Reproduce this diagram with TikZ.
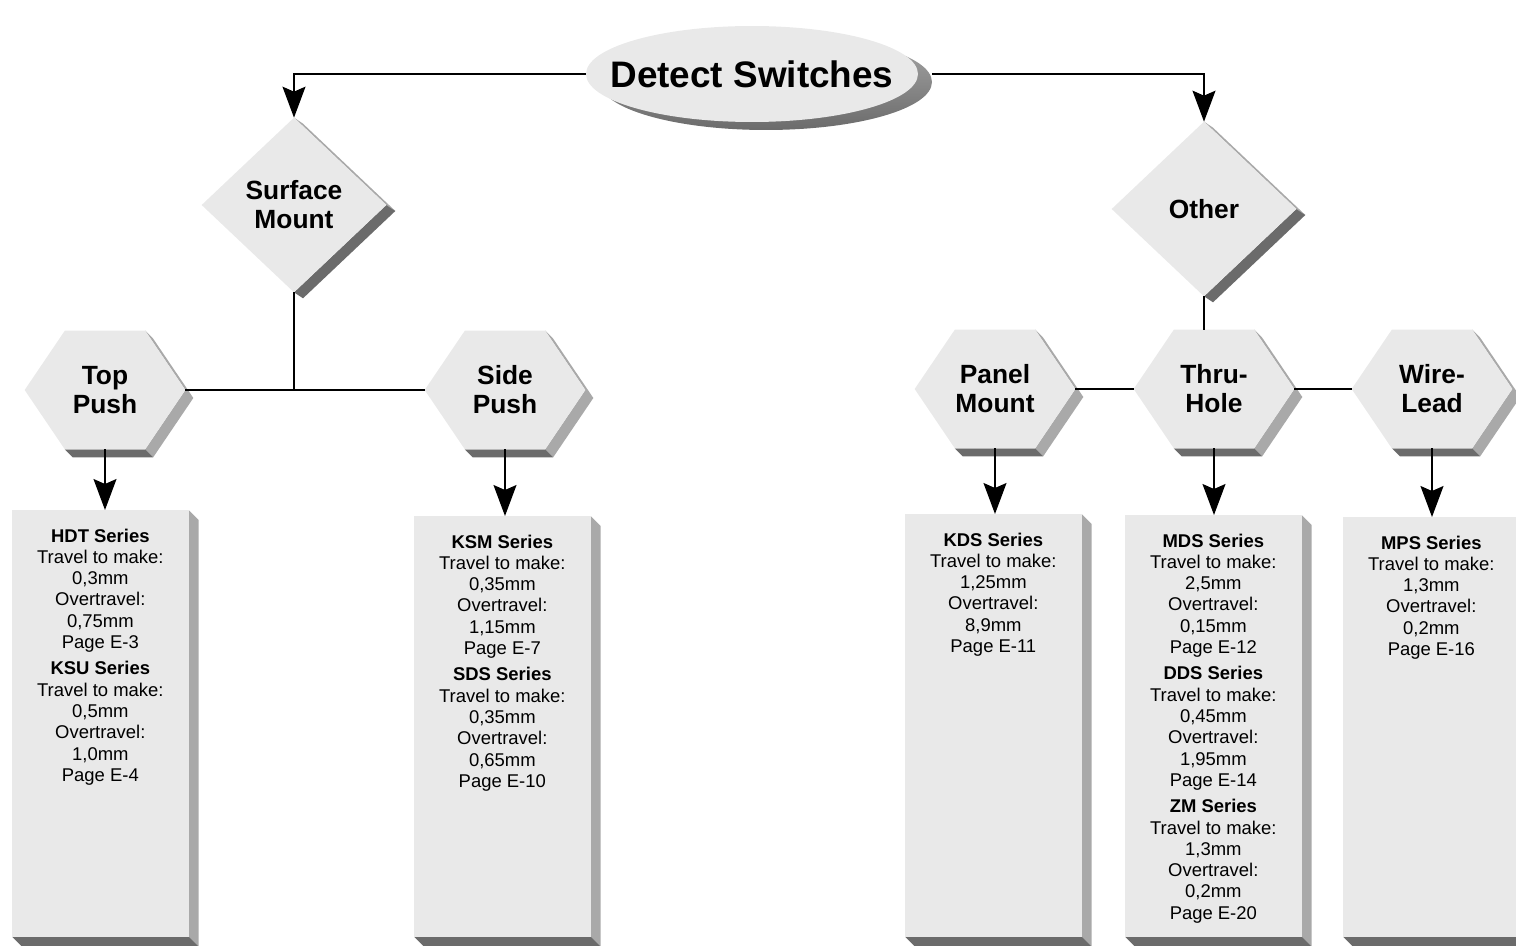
\documentclass[tikz,border=0pt]{standalone}
\usepackage{fontspec}
\setmainfont{Liberation Sans}
\usepackage{tikz}
\usetikzlibrary{arrows.meta}
\usetikzlibrary{backgrounds}
\usetikzlibrary{calc}
\definecolor{facegray}{HTML}{E9E9E9}
\definecolor{sidegray}{HTML}{A9A9A9}
\definecolor{dropgray}{HTML}{6B6B6B}

\begin{document}
\begin{tikzpicture}[x=0.02cm, y=-0.02cm,
title/.style={inner sep=0pt, align=center, minimum width=6.64cm, minimum height=1.92cm,
  font=\fontsize{21}{24}\selectfont\bfseries},
choice/.style={inner sep=0pt, align=center, minimum width=3.68cm, minimum height=3.48cm,
  font=\fontsize{15}{16.5}\selectfont\bfseries},
kind/.style={inner sep=0pt, align=center, minimum width=3.2cm, minimum height=2.36cm,
  font=\fontsize{15}{16.5}\selectfont\bfseries},
series/.style={inner sep=0pt, anchor=north west,
  execute at begin node={\begin{minipage}[t][#1][t]{3.52cm}\centering
    \fontsize{10.5}{12.1}\selectfont\vspace*{10.5pt}},
  execute at end node={\end{minipage}}},
link/.style={line width=0.9pt},
arr/.style={-{Stealth[length=0.62cm, width=0.46cm, inset=0.1cm]}}]
\useasboundingbox (0,0) rectangle (1516,946);

\node[title] (root) at (752,74) {Detect Switches};
\node[choice] (surf) at (294,205) {Surface\\Mount};
\node[choice] (oth) at (1204,209) {Other};
\node[kind] (tp) at (105,390) {Top\\Push};
\node[kind] (sp) at (505,390) {Side\\Push};
\node[kind] (pm) at (995,389) {Panel\\Mount};
\node[kind] (th) at (1214,389) {Thru-\\Hole};
\node[kind] (wl) at (1432,389) {Wire-\\Lead};

\node[series=8.52cm] (hdt) at (12,510) {\textbf{HDT Series}\\Travel to make:\\0,3mm\\Overtravel:\\0,75mm\\Page E-3\\[3pt]
  \textbf{KSU Series}\\Travel to make:\\0,5mm\\Overtravel:\\1,0mm\\Page E-4};
\node[series=8.4cm] (ksm) at (414,516) {\textbf{KSM Series}\\Travel to make:\\0,35mm\\Overtravel:\\1,15mm\\Page E-7\\[3pt]
  \textbf{SDS Series}\\Travel to make:\\0,35mm\\Overtravel:\\0,65mm\\Page E-10};
\node[series=8.44cm] (kds) at (905,514) {\textbf{KDS Series}\\Travel to make:\\1,25mm\\Overtravel:\\8,9mm\\Page E-11};
\node[series=8.42cm] (mds) at (1125,515) {\textbf{MDS Series}\\Travel to make:\\2,5mm\\Overtravel:\\0,15mm\\Page E-12\\[3pt]
  \textbf{DDS Series}\\Travel to make:\\0,45mm\\Overtravel:\\1,95mm\\Page E-14\\[3pt]
  \textbf{ZM Series}\\Travel to make:\\1,3mm\\Overtravel:\\0,2mm\\Page E-20};
\node[series=8.38cm] (mps) at (1343,517) {\textbf{MPS Series}\\Travel to make:\\1,3mm\\Overtravel:\\0,2mm\\Page E-16};

% connectors
\draw[link, arr] (root.west) -| (surf.north);
\draw[link, arr, shorten <=0.28cm] (root.east) -| (oth.north);
\draw[link] (surf.south) -- (surf.south |- tp.east);
\draw[link] (tp.east) -- (sp.west);
\draw[link] (oth.south) -- (oth.south |- th.north);
\draw[link] (pm.east) -- (th.west) (th.east) -- (wl.west);
\foreach \h/\b in {tp/hdt, sp/ksm, pm/kds, th/mds, wl/mps}{
\draw[link, arr] (\h.south) -- (\h.south |- \b.north);}

% raised shapes
\begin{scope}[on background layer]
\shade[top color=sidegray, bottom color=dropgray] ($(root.center)+(14,8)$) ellipse [x radius=3.32cm, y radius=0.96cm];
\fill[facegray] (root.center) ellipse [x radius=3.32cm, y radius=0.96cm];
\foreach \d in {surf, oth}{
\fill[sidegray] (\d.north) -- (\d.east) -- ++(9,6) -- ($(\d.north)+(9,6)$) -- cycle;
\fill[dropgray] (\d.east) -- (\d.south) -- ++(9,6) -- ($(\d.east)+(9,6)$) -- cycle;
\fill[facegray] (\d.north) -- (\d.east) -- (\d.south) -- (\d.west) -- cycle;}
\foreach \h in {tp, sp, pm, th, wl}{
\path ($(\h.north west)!.25!(\h.north east)$) coordinate (\h-nw)
      ($(\h.north west)!.75!(\h.north east)$) coordinate (\h-ne)
      ($(\h.south west)!.75!(\h.south east)$) coordinate (\h-se)
      ($(\h.south west)!.25!(\h.south east)$) coordinate (\h-sw);
\fill[sidegray] (\h-ne) -- (\h.east) -- (\h-se) -- ++(8,8) -- ($(\h.east)+(8,8)$) -- ($(\h-ne)+(8,8)$) -- cycle;
\fill[dropgray] (\h-sw) -- (\h-se) -- ++(8,8) -- ($(\h-sw)+(8,8)$) -- cycle;
\fill[facegray] (\h.west) -- (\h-nw) -- (\h-ne) -- (\h.east) -- (\h-se) -- (\h-sw) -- cycle;}
\foreach \b in {hdt, ksm, kds, mds, mps}{
\fill[sidegray] (\b.north east) -- ++(10,10) -- ($(\b.south east)+(10,10)$) -- (\b.south east) -- cycle;
\fill[dropgray] (\b.south west) -- (\b.south east) -- ++(10,10) -- ($(\b.south west)+(10,10)$) -- cycle;
\fill[facegray] (\b.north west) rectangle (\b.south east);}
\end{scope}
\end{tikzpicture}
\end{document}
